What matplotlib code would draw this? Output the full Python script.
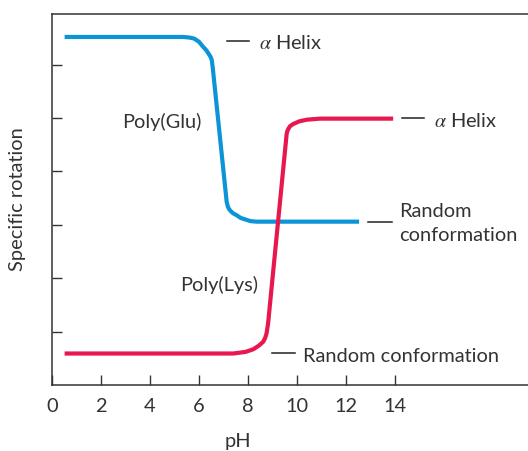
import numpy as np
import matplotlib.pyplot as plt
import matplotlib as mpl

# Poly(Glu): helix at low pH, random coil above ~pH 7
glu_ph = [0.6, 5.35, 5.6, 5.8, 6.0, 6.16, 6.3, 6.4, 6.47, 6.52, 6.56,
          7.13, 7.18, 7.25, 7.38, 7.54, 7.7, 7.9, 8.1, 8.35, 12.45]
glu_rot = [6.52, 6.52, 6.51, 6.49, 6.43, 6.34, 6.27, 6.2, 6.15, 6.09, 5.95,
           3.43, 3.34, 3.28, 3.22, 3.18, 3.13, 3.10, 3.07, 3.06, 3.06]

# Poly(Lys): random coil at low pH, helix above ~pH 10
lys_ph = [0.6, 7.4, 7.9, 8.22, 8.45, 8.62, 8.7, 8.76, 8.82,
          9.58, 9.61, 9.65, 9.72, 9.85, 10.1, 10.4, 10.94, 13.84]
lys_rot = [0.59, 0.59, 0.62, 0.67, 0.74, 0.81, 0.88, 0.97, 1.15,
           4.71, 4.76, 4.80, 4.85, 4.89, 4.94, 4.97, 4.99, 4.99]

ph_ticks = [0, 2, 4, 6, 8, 10, 12, 14]
rot_ticks = [1, 2, 3, 4, 5, 6]

blue = '#0b95d6'
red = '#e8174f'
ink = '#333333'

plt.rcParams['font.family'] = 'Lato'
plt.rcParams['mathtext.fontset'] = 'stix'
plt.rcParams.update({'font.size': 14.4})

fig = plt.figure(figsize=(5.28, 4.51), dpi=100)
ax = fig.add_axes([52 / 528, 66 / 451, 476 / 528, 371 / 451])

ax.plot(glu_ph, glu_rot, color=blue, lw=3.0, solid_joinstyle='round')
ax.plot(lys_ph, lys_rot, color=red, lw=3.0, solid_joinstyle='round')

ax.set_xlim(0, 19.43)
ax.set_ylim(0, 6.95)
ax.set_xticks(ph_ticks)
ax.set_xticklabels([str(t) for t in ph_ticks])
ax.set_yticks(rot_ticks)
ax.set_yticklabels([])
ax.tick_params(direction='in', length=7.5, width=1.0, color=ink,
               labelcolor=ink, labelsize=14.4, pad=9)
ax.spines['right'].set_visible(False)
for s in ['left', 'bottom', 'top']:
    ax.spines[s].set_color(ink)
    ax.spines[s].set_linewidth(1.1)

fig.text(237.5 / 528, 1 - 442 / 451, 'pH', ha='center', va='center', color=ink)
fig.text(18 / 528, 1 - 199 / 451, 'Specific rotation', rotation=90,
         ha='center', va='center', color=ink)

# leader dashes next to the state labels
dashes = [((7.13, 8.05), 6.44), ((14.27, 15.2), 5.01),
          ((12.91, 13.87), 3.06), ((8.99, 9.92), 0.60)]
for (x0, x1), y in dashes:
    ax.plot([x0, x1], [y, y], color='#222222', lw=1.1, clip_on=False)

kw = dict(color=ink, va='baseline')
ax.text(4.47, 4.81, 'Poly(Glu)', ha='center', **kw)
ax.text(6.82, 1.76, 'Poly(Lys)', ha='center', **kw)
ax.text(8.46, 6.29, r'$\alpha$ Helix', ha='left', **kw)
ax.text(15.59, 4.84, r'$\alpha$ Helix', ha='left', **kw)
ax.text(14.18, 3.14, 'Random', ha='left', **kw)
ax.text(14.18, 2.70, 'conformation', ha='left', **kw)
ax.text(10.26, 0.44, 'Random conformation', ha='left', **kw)

fig.savefig('out.png', dpi=100)
